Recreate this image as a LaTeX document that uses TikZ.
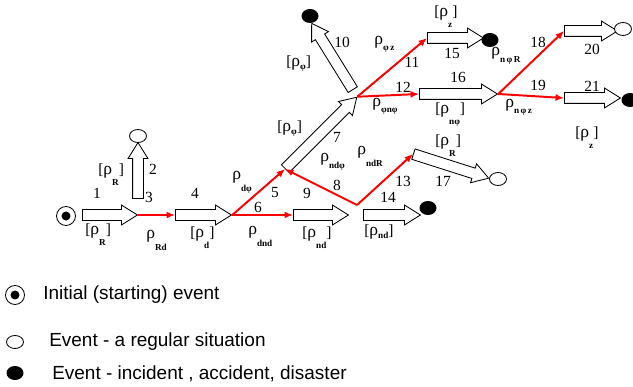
\documentclass[tikz,border=0pt]{standalone}
\usepackage{fontspec}
\setmainfont{Liberation Serif}
\newfontfamily\legendfont{Liberation Sans}
\usetikzlibrary{shapes.arrows, shapes.geometric, arrows.meta}
\newcommand{\unitpx}{0.025cm}
\newcommand{\subfont}{\fontsize{6.5}{7}\selectfont\bfseries}
\newcommand{\dropsub}[2]{\smash{\raisebox{#1}{\subfont #2}}}
\newcommand{\rh}{{\fontsize{12.5}{13}\selectfont ρ}}

\begin{document}
\begin{tikzpicture}[x=0.025cm, y=-0.025cm,
  blockarr/.style={single arrow, draw=black, fill=white, line width=0.6pt, inner sep=0pt, inner ysep=5*\unitpx, minimum width=19*\unitpx, single arrow head extend=4.5*\unitpx, single arrow tip angle=64, anchor=tail},
  redarr/.style={draw=red, line width=1.4pt, -{Latex[length=6pt,width=5pt]}},
  okev/.style={ellipse, draw=black, fill=white, line width=0.6pt, inner sep=0pt, minimum width=17*\unitpx, minimum height=13*\unitpx},
  badev/.style={ellipse, fill=black, inner sep=0pt, minimum width=17*\unitpx, minimum height=14*\unitpx},
  startev/.style={circle, draw=black, line width=0.6pt, inner sep=0pt, minimum size=19*\unitpx, path picture={\fill[black] (path picture bounding box.center) circle (4.5*\unitpx);}},
  num/.style={font=\fontsize{11}{12}\selectfont, inner sep=0pt},
  lab/.style={font=\fontsize{11}{12}\selectfont, inner sep=0pt, anchor=west},
  legtext/.style={font=\legendfont\fontsize{13.5}{15}\selectfont, inner sep=0pt, anchor=west}
]
  \useasboundingbox (0,0) rectangle (633,387);

  % block arrows
  \node[blockarr, minimum height=55*\unitpx] (b1) at (82,215) {};
  \node[blockarr, rotate=90, minimum height=56*\unitpx] (b2) at (138,199) {};
  \node[blockarr, minimum height=56*\unitpx] (b4) at (175,215) {};
  \node[blockarr, rotate=45, minimum height=101*\unitpx] (b7) at (285,169) {};
  \node[blockarr, minimum height=55*\unitpx] (b9) at (293,215) {};
  \node[blockarr, rotate=121.8, minimum height=78*\unitpx] (b10) at (353,90) {};
  \node[blockarr, minimum height=57*\unitpx] (b14) at (363,215) {};
  \node[blockarr, minimum height=56*\unitpx] (b15) at (427,38) {};
  \node[blockarr, minimum height=78*\unitpx] (b16) at (419,94) {};
  \node[blockarr, rotate=-17.7, minimum height=79*\unitpx] (b17) at (413,154) {};
  \node[blockarr, minimum height=53*\unitpx] (b20) at (564,31) {};
  \node[blockarr, minimum height=56*\unitpx] (b21) at (564,98) {};
  \coordinate (jnd) at (357,205);

  % events
  \node[startev] (init) at (66,216) {};
  \node[okev] (e2) at (138,136) {};
  \node[badev] (e10) at (310,16) {};
  \node[badev] (e14) at (428,208) {};
  \node[badev] (e15) at (490,40) {};
  \node[okev] (e17) at (498,179) {};
  \node[okev] (e20) at (623,29) {};
  \node[badev] (e21) at (630,100) {};

  % red transitions
  \draw[redarr] (b1.tip) -- (b4.tail);
  \draw[redarr] (b4.tip) -- (b7.tail);
  \draw[redarr] (b4.tip) -- (b9.tail);
  \draw[redarr] (jnd) -- (b7.tail);
  \draw[redarr] (jnd) -- (b17.tail);
  \draw[redarr] (b7.tip) -- (b15.tail);
  \draw[redarr] (b7.tip) -- (b16.tail);
  \draw[redarr] (b16.tip) -- (b20.tail);
  \draw[redarr] (b16.tip) -- (b21.tail);

  % numbers
  \foreach \n/\x/\y in {1/97/193, 2/153/169, 3/149/197, 4/195/193, 5/275/193, 6/258/207,
      7/337/137, 8/337/185, 9/307/193, 10/342/42, 11/412/62, 12/403/87, 13/403/181,
      14/388/197, 15/452/53, 16/458/77, 17/443/181, 18/538/42, 19/538/85, 20/592/49, 21/592/86}
    \node[num] (n\n) at (\x,\y) {\n};

  % probabilities
  \node[lab] (l1) at (98,171) {[\rh\dropsub{-7.5pt}{R}]};
  \node[lab] (l2) at (85,231) {[\rh\dropsub{-7.5pt}{R}]};
  \node[lab] (l3) at (190,234) {[\rh\dropsub{-7.5pt}{d}]};
  \node[lab] (l4) at (302,234) {[\rh\dropsub{-7.5pt}{nd}]};
  \node[lab] (l5) at (364,232) {[\rh\dropsub{-2pt}{nd}]};
  \node[lab] (l6) at (277,128) {[\rh\dropsub{-2pt}{φ}]};
  \node[lab] (l7) at (286,63) {[\rh\dropsub{-2pt}{φ}]};
  \node[lab] (l8) at (434,13) {[\rh\dropsub{-7.5pt}{z}]};
  \node[lab] (l9) at (435,110) {[\rh\dropsub{-7.5pt}{nφ}]};
  \node[lab] (l10) at (435,142) {[\rh\dropsub{-7.5pt}{R}]};
  \node[lab] (l11) at (575,134) {[\rh\dropsub{-7.5pt}{z}]};

  \node[lab] (p1) at (146,236) {\rh\dropsub{-9pt}{Rd}};
  \node[lab] (p2) at (232,177) {\rh\dropsub{-9pt}{dφ}};
  \node[lab] (p3) at (248,232) {\rh\dropsub{-8.5pt}{dnd}};
  \node[lab] (p4) at (320,159) {\rh\dropsub{-5.5pt}{ndφ}};
  \node[lab] (p5) at (357,152) {\rh\dropsub{-8.5pt}{ndR}};
  \node[lab] (p6) at (374,42) {\rh\dropsub{-4.2pt}{φ\,z}};
  \node[lab] (p7) at (372,104) {\rh\dropsub{-4.2pt}{φnφ}};
  \node[lab] (p8) at (491,53) {\rh\dropsub{-5pt}{n\,φ\,R}};
  \node[lab] (p9) at (505,105) {\rh\dropsub{-4.2pt}{n\,φ\,z}};

  % legend
  \node[startev] (kinit) at (15,295) {};
  \node[okev] (kok) at (15,342) {};
  \node[badev] (kbad) at (15,373) {};
  \node[legtext] (tinit) at (43,295) {Initial (starting) event};
  \node[legtext] (tok) at (49,342) {Event - a regular situation};
  \node[legtext] (tbad) at (52,374) {Event - incident , accident, disaster};
\end{tikzpicture}
\end{document}
